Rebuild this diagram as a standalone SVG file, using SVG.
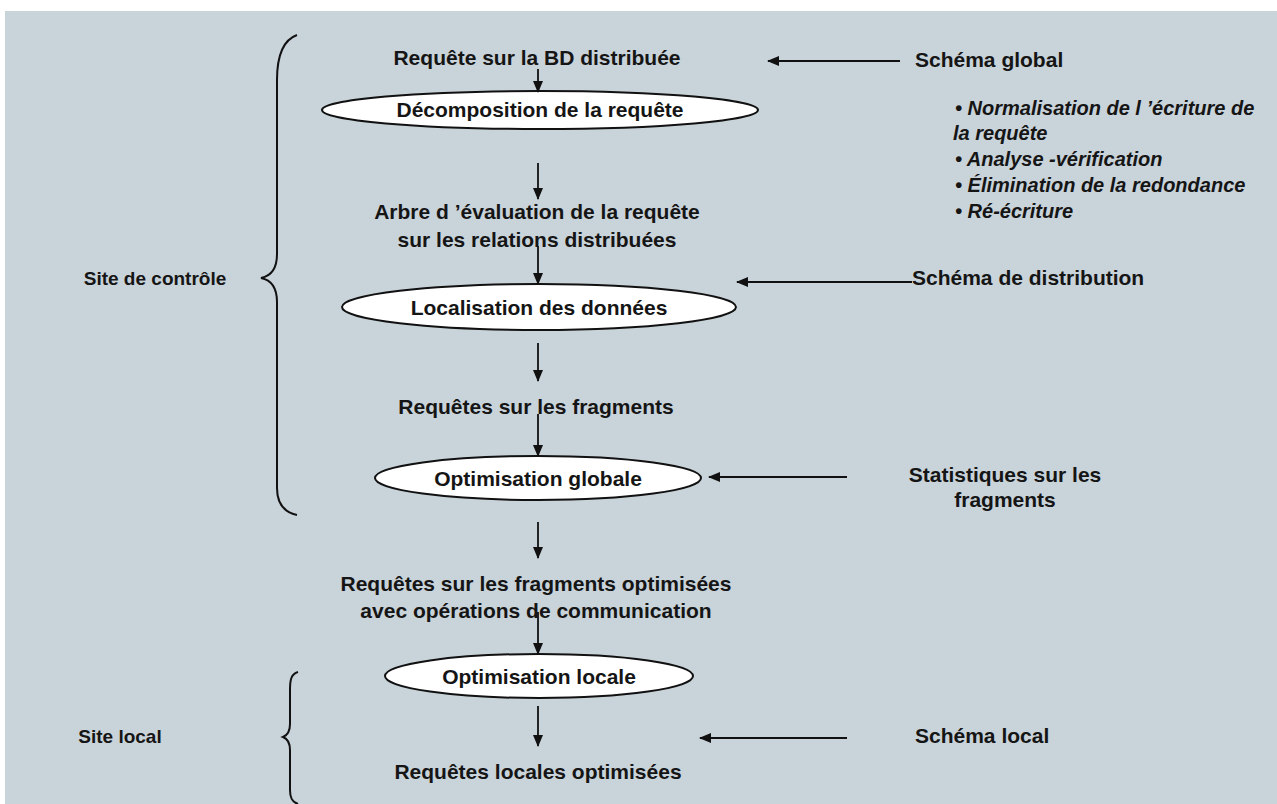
<svg xmlns="http://www.w3.org/2000/svg" width="1277" height="804" viewBox="0 0 1277 804">
  <defs>
    <marker id="head" viewBox="0 0 12 10" refX="11" refY="5" markerWidth="12" markerHeight="10" markerUnits="userSpaceOnUse" orient="auto">
      <path d="M0,0 L12,5 L0,10 Z" fill="#111"/>
    </marker>
  </defs>
  <style>
    text { font-family: "Liberation Sans", Arial, sans-serif; font-weight: bold; font-size: 21px; fill: #151515; }
    .c { text-anchor: middle; }
    .it { font-style: italic; font-size: 20px; }
    .site { font-size: 19px; }
    .step ellipse { fill: #ffffff; stroke: #111; stroke-width: 2; }
    .flow line { stroke: #111; stroke-width: 1.8; marker-end: url(#head); }
    .brace { fill: none; stroke: #111; stroke-width: 2; }
  </style>

  <!-- backdrop -->
  <rect x="0" y="0" width="1277" height="804" fill="#ffffff"/>
  <rect x="5" y="11" width="1272" height="793" fill="#C9D3DA"/>

  <!-- site braces and labels -->
  <g id="site-controle">
    <path class="brace" d="M297,35 C283,40 277,55 277,80 L277,254 C277,268 271,276 261,278 C271,280 277,288 277,302 L277,488 C277,503 283,512 297,515"/>
    <text class="c site" x="155" y="285">Site de contrôle</text>
  </g>
  <g id="site-local">
    <path class="brace" d="M298,672 C291,674 290,680 290,690 L290,724 C290,731 288,735 283,737 C288,739 290,743 290,750 L290,790 C290,798 292,802 298,804"/>
    <text class="c site" x="120" y="743">Site local</text>
  </g>

  <!-- intermediate results -->
  <g id="requete-bd">
    <text class="c" x="537" y="65">Requête sur la BD distribuée</text>
  </g>
  <g id="arbre-evaluation">
    <text class="c" x="537" y="219">Arbre d ’évaluation de la requête</text>
    <text class="c" x="537" y="247">sur les relations distribuées</text>
  </g>
  <g id="requetes-fragments">
    <text class="c" x="536" y="414">Requêtes sur les fragments</text>
  </g>
  <g id="requetes-optimisees">
    <text class="c" x="536" y="591">Requêtes sur les fragments optimisées</text>
    <text class="c" x="536" y="618">avec opérations de communication</text>
  </g>
  <g id="requetes-locales">
    <text class="c" x="538" y="779">Requêtes locales optimisées</text>
  </g>

  <!-- processing steps -->
  <g id="decomposition" class="step">
    <ellipse cx="540" cy="110" rx="218" ry="19"/>
    <text class="c" x="540" y="117">Décomposition de la requête</text>
  </g>
  <g id="localisation" class="step">
    <ellipse cx="539" cy="307" rx="197" ry="23"/>
    <text class="c" x="539" y="315">Localisation des données</text>
  </g>
  <g id="optimisation-globale" class="step">
    <ellipse cx="538" cy="478" rx="163" ry="22"/>
    <text class="c" x="538" y="486">Optimisation globale</text>
  </g>
  <g id="optimisation-locale" class="step">
    <ellipse cx="539" cy="676" rx="154" ry="22"/>
    <text class="c" x="539" y="684">Optimisation locale</text>
  </g>

  <!-- inputs on the right -->
  <g id="schema-global">
    <text x="915" y="67">Schéma global</text>
  </g>
  <g id="etapes-decomposition">
    <text class="it" x="955" y="115">• Normalisation de l ’écriture de</text>
    <text class="it" x="953" y="140">la requête</text>
    <text class="it" x="955" y="166">• Analyse -vérification</text>
    <text class="it" x="955" y="192">• Élimination de la redondance</text>
    <text class="it" x="955" y="218">• Ré-écriture</text>
  </g>
  <g id="schema-distribution">
    <text x="912" y="285">Schéma de distribution</text>
  </g>
  <g id="statistiques">
    <text class="c" x="1005" y="482">Statistiques sur les</text>
    <text class="c" x="1005" y="507">fragments</text>
  </g>
  <g id="schema-local">
    <text x="915" y="743">Schéma local</text>
  </g>

  <!-- connectors -->
  <g id="connectors" class="flow">
    <line x1="538" y1="69" x2="538" y2="92"/>
    <line x1="538" y1="163" x2="538" y2="199"/>
    <line x1="538" y1="246" x2="538" y2="284"/>
    <line x1="538" y1="343" x2="538" y2="381"/>
    <line x1="538" y1="414" x2="538" y2="456"/>
    <line x1="538" y1="522" x2="538" y2="558"/>
    <line x1="538" y1="612" x2="538" y2="654"/>
    <line x1="538" y1="706" x2="538" y2="746"/>
    <line x1="900" y1="61" x2="768" y2="61"/>
    <line x1="912" y1="282" x2="737" y2="282"/>
    <line x1="847" y1="477" x2="709" y2="477"/>
    <line x1="847" y1="738" x2="700" y2="738"/>
  </g>
</svg>
